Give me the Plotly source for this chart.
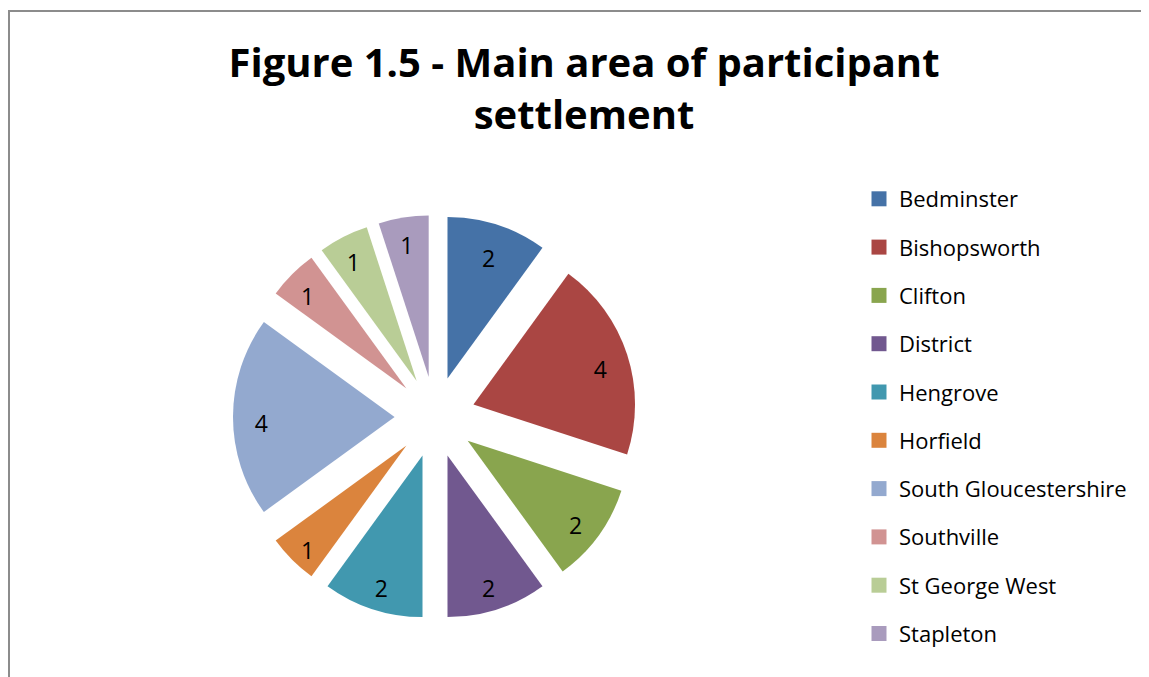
import plotly.graph_objects as go

categories = ["Bedminster", "Bishopsworth", "Clifton", "District", "Hengrove",
              "Horfield", "South Gloucestershire", "Southville", "St George West", "Stapleton"]
values = [2, 4, 2, 2, 2, 1, 4, 1, 1, 1]
colors = ["#4572A7", "#AA4643", "#89A54E", "#71588F", "#4198AF",
          "#DB843D", "#93A9CF", "#D19392", "#B9CD96", "#A99BBD"]

W, H = 1149, 677
FONT = "'Open Sans', 'DejaVu Sans', sans-serif"
PULL = [0.25] * len(values)
DOMAIN = dict(x=[225 / W, 629 / W], y=[1 - 611 / H, 1 - 207 / H])
# label layer: same size, nudged down a little so digits sit visually centred
LABEL_DOMAIN = dict(x=[225 / W, 629 / W], y=[1 - 617 / H, 1 - 213 / H])

fig = go.Figure()
# coloured slices
fig.add_trace(go.Pie(
    labels=categories, values=values, sort=False, direction="clockwise", rotation=0,
    marker=dict(colors=colors, line=dict(width=0)),
    pull=PULL, textinfo="none", domain=DOMAIN,
    showlegend=False, hoverinfo="label+value",
))
# value labels (same geometry, transparent ring so labels sit toward the rim)
fig.add_trace(go.Pie(
    labels=categories, values=values, sort=False, direction="clockwise", rotation=0,
    marker=dict(colors=["rgba(0,0,0,0)"] * len(values), line=dict(width=0)),
    pull=PULL, hole=0.65, domain=LABEL_DOMAIN,
    textinfo="value", textposition="inside", insidetextorientation="horizontal",
    textfont=dict(family=FONT, size=23, color="black"),
    showlegend=False, hoverinfo="label+value",
))

# legend entries (one group per category so spacing can match the reference)
for name, col in zip(categories, colors):
    fig.add_trace(go.Scatter(
        x=[None], y=[None], mode="markers", name=name, legendgroup=name,
        marker=dict(symbol="square", size=15, color=col),
        hoverinfo="skip",
    ))

fig.update_layout(
    width=W, height=H,
    margin=dict(l=0, r=0, t=0, b=0),
    paper_bgcolor="white", plot_bgcolor="white",
    xaxis=dict(visible=False), yaxis=dict(visible=False),
    title=dict(text="<b>Figure 1.5 - Main area of participant<br>settlement</b>",
               x=576 / W, xanchor="center", y=1 - 69 / H, yanchor="top",
               font=dict(family=FONT, size=40, color="black")),
    legend=dict(x=851 / W, xanchor="left", y=1 - 170 / H, yanchor="top",
                traceorder="grouped", tracegroupgap=16.7,
                font=dict(family=FONT, size=22, color="black"),
                bgcolor="rgba(0,0,0,0)"),
    shapes=[dict(type="rect", xref="paper", yref="paper",
                 x0=1 / W, x1=1.2, y0=-0.2, y1=1 - 3 / H,
                 line=dict(color="#8c8c8c", width=2), fillcolor="rgba(0,0,0,0)",
                 layer="below")],
)

fig.write_html("out.html")
